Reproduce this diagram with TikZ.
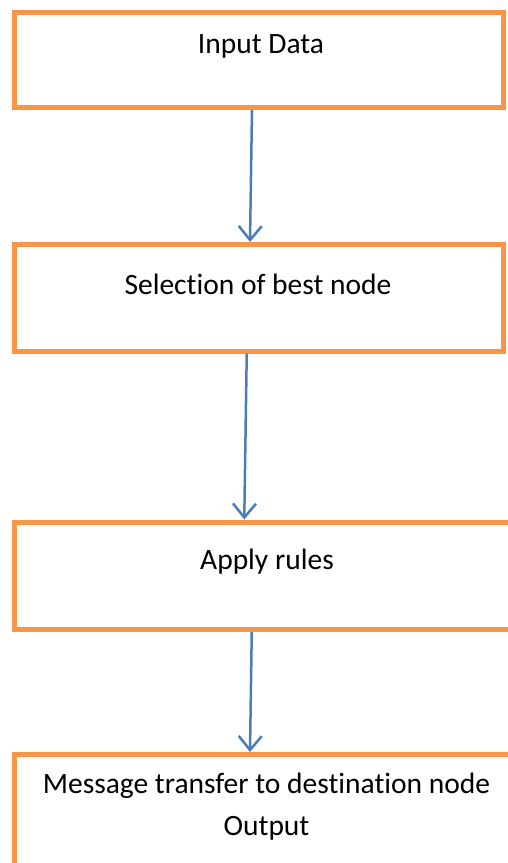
\documentclass[tikz,border=0pt]{standalone}
\usepackage{fontspec}
\setmainfont{Carlito}[Ligatures={NoCommon}]
\usetikzlibrary{arrows.meta,calc}
\definecolor{boxorange}{HTML}{F79646}
\definecolor{arrowblue}{HTML}{4A7EBB}
\tikzset{
  stage/.style={draw=boxorange, line width=5pt, rectangle, inner sep=0pt, fill=none},
  caption/.style={font=\fontsize{29.5}{42}\selectfont, align=center, inner sep=0pt},
  flow/.style={draw=arrowblue, line width=2.5pt, -{Straight Barb[length=14pt,width=23pt,line width=2.5pt]}}
}
\begin{document}
\begin{tikzpicture}[x=1pt,y=-1pt]
  \useasboundingbox (0,0) rectangle (508,863);
  \clip (0,0) rectangle (508,863);
  \fill[white] (0,0) rectangle (508,863);

  % process boxes (1px = 1pt)
  \node[stage, minimum width=488.5pt, minimum height=95pt]   (b1) at (258.75,60) {};
  \node[stage, minimum width=488.5pt, minimum height=106.5pt] (b2) at (258.75,297.75) {};
  \node[stage, minimum width=505.5pt, minimum height=107.5pt] (b3) at (267.25,575.75) {};
  \node[stage, minimum width=505.5pt, minimum height=140pt]   (b4) at (267.25,824.5) {};

  % box captions
  \node[caption] (t1) at (261,46)  {Input Data};
  \node[caption] (t2) at (258,284) {Selection of best node};
  \node[caption] (t3) at (267,562) {Apply rules};
  \node[caption] (t4) at (266.5,807) {Message transfer to destination node\\Output};

  % connectors
  \draw[flow] ([xshift=-6.75pt]b1.south) -- ([xshift=-8.75pt]b2.north);
  \draw[flow] ([xshift=-12pt]b2.south) -- ([xshift=-23pt]b3.north);
  \draw[flow] ([xshift=-15.5pt]b3.south) -- ([xshift=-17.25pt]b4.north);
\end{tikzpicture}
\end{document}
